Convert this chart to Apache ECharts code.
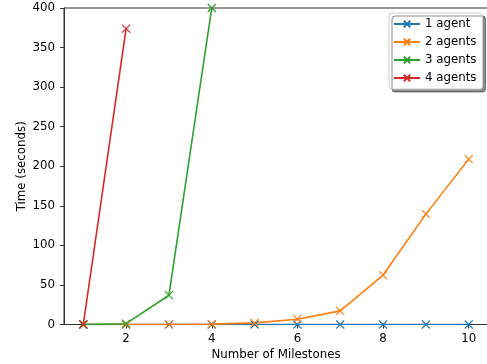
<!DOCTYPE html>
<html><head><meta charset="utf-8">
<script src="https://cdn.jsdelivr.net/npm/echarts@6/dist/echarts.min.js"></script>
<style>html,body{margin:0;padding:0;background:#fff}#c{width:487px;height:364px}</style>
</head><body><div id="c"></div>
<script>
const milestones = [1,2,3,4,5,6,7,8,9,10];
const agent1 = [0,0,0,0,0,0,0,0,0,0];
const agent2 = [0,0,0.2,0.5,2,6.7,17.2,62.5,139.5,209];
const agent3 = [0,1,37,400];
const agent4 = [0,374];
const seriesNames = ['1 agent','2 agents','3 agents','4 agents'];
const xTicks = [2,4,6,8,10];
const yTicks = [0,50,100,150,200,250,300,350,400];

const colors = ['#1f77b4','#ff7f0e','#2ca02c','#d62728'];
const xMark = 'path://M0,0L10,10M10,0L0,10';
const font = 'DejaVu Sans';
const fs = 11.8;
function mk(name, vals, c){
  return {
    name: name, type:'line',
    data: vals.map((v,i)=>[milestones[i], v]),
    symbol: xMark, symbolSize: 8, showSymbol:true,
    lineStyle:{color:c,width:1.6},
    itemStyle:{color:c,borderColor:c,borderWidth:1.1},
    emphasis:{disabled:true},
    animation:false, clip:true
  };
}
const chart = echarts.init(document.getElementById('c'));
chart.setOption({
  animation:false,
  grid:{left:64,right:-1,top:8,bottom:39.5,show:true,borderColor:'#333',borderWidth:1,backgroundColor:'transparent',containLabel:false,outerBoundsMode:'none'},
  xAxis:{type:'value',min:0.55,max:10.45,
    name:'Number of Milestones',nameLocation:'middle',nameGap:24,nameMoveOverlap:false,
    nameTextStyle:{fontFamily:font,fontSize:fs,color:'#000'},
    axisLine:{show:true,lineStyle:{color:'#333',width:1}},
    axisTick:{show:true,length:4,customValues:xTicks,lineStyle:{color:'#333'}},
    axisLabel:{customValues:xTicks,fontFamily:font,fontSize:fs,color:'#000',margin:8},
    splitLine:{show:false}},
  yAxis:{type:'value',min:0,max:400,interval:50,
    name:'Time (seconds)',nameLocation:'middle',nameGap:36,nameMoveOverlap:false,
    nameTextStyle:{fontFamily:font,fontSize:fs,color:'#000'},
    axisLine:{show:true,lineStyle:{color:'#333',width:1}},
    axisTick:{show:true,length:4,lineStyle:{color:'#333'}},
    axisLabel:{fontFamily:font,fontSize:fs,color:'#000',margin:9},
    splitLine:{show:false}},
  legend:{orient:'vertical',left:389,top:13,
    data:seriesNames,
    itemWidth:26,itemHeight:8,itemGap:6,
    padding:[5,6,5,4],
    backgroundColor:'#fff',borderColor:'#ccc',borderWidth:1,borderRadius:3,
    shadowColor:'rgba(0,0,0,0.45)',shadowBlur:0,shadowOffsetX:3,shadowOffsetY:3,
    textStyle:{fontFamily:font,fontSize:fs,color:'#000',lineHeight:12},
    selectedMode:false},
  series:[mk(seriesNames[0],agent1,colors[0]),mk(seriesNames[1],agent2,colors[1]),
          mk(seriesNames[2],agent3,colors[2]),mk(seriesNames[3],agent4,colors[3])]
});
</script></body></html>
